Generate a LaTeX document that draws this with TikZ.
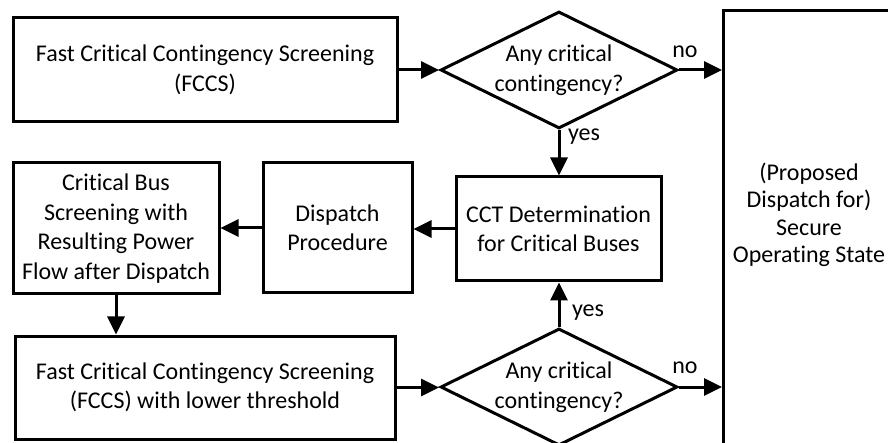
\documentclass[tikz,border=0pt]{standalone}
\usepackage{fontspec}
\setmainfont{Carlito}[Ligatures=NoCommon]
\usetikzlibrary{arrows.meta,shapes.geometric}

\begin{document}
\begin{tikzpicture}[x=1pt,y=-1pt,
  every node/.style={font=\fontsize{24}{29.5}\selectfont},
  box/.style={draw, line width=3pt, rectangle, inner sep=0pt, align=center},
  decision/.style={draw, line width=3pt, diamond, minimum width=237pt, minimum height=117pt, inner sep=0pt},
  dtext/.style={align=center, inner sep=0pt},
  flow/.style={line width=3pt, -{Triangle[length=18pt,width=17pt]}},
  lbl/.style={inner sep=0pt}]

\path[use as bounding box] (0,0) rectangle (888,443);
\clip (0,0) rectangle (888,443);

% process boxes
\node[box, minimum width=384pt, minimum height=104pt] (fccs1) at (205,70)
  {Fast Critical Contingency Screening\\(FCCS)};
\node[box, minimum width=206pt, minimum height=131pt] (critbus) at (116,228.5)
  {Critical Bus\\Screening with\\Resulting Power\\Flow after Dispatch};
\node[box, minimum width=149pt, minimum height=130pt] (dispatch) at (337.5,228)
  {Dispatch\\Procedure};
\node[box, minimum width=205pt, minimum height=104pt] (cct) at (558.5,229)
  {CCT Determination\\for Critical Buses};
\node[box, minimum width=380pt, minimum height=103pt] (fccs2) at (205,387.5)
  {Fast Critical Contingency Screening\\(FCCS) with lower threshold};

% decisions
\node[decision] (dia1) at (559,70) {};
\node[dtext] (dia1t) at (dia1.center) {Any critical\\contingency?};
\node[decision] (dia2) at (559,387) {};
\node[dtext] (dia2t) at (dia2.center) {Any critical\\contingency?};

% final state
\node[box, anchor=north west, minimum width=170pt, minimum height=470pt] (secure) at (722,9) {};
\node[dtext, font=\fontsize{24}{27.5}\selectfont] (securet) at (809,215)
  {(Proposed\\Dispatch for)\\Secure\\Operating State};

% connectors
\draw[flow] (fccs1.east) -- (dia1.west);
\draw[flow] (dia1.east) -- (dia1.east -| secure.west);
\draw[flow] (dia1.south) -- (dia1.south |- cct.north);
\draw[flow] (cct.west) -- (cct.west -| dispatch.east);
\draw[flow] (dispatch.west) -- (dispatch.west -| critbus.east);
\draw[flow] (critbus.south) -- (critbus.south |- fccs2.north);
\draw[flow] (fccs2.east) -- (fccs2.east -| dia2.west);
\draw[flow] (dia2.north) -- (dia2.north |- cct.south);
\draw[flow] (dia2.east) -- (dia2.east -| secure.west);

% branch labels
\node[lbl] (no1) at (685,52) {no};
\node[lbl] (yes1) at (584,137) {yes};
\node[lbl] (yes2) at (588,313) {yes};
\node[lbl] (no2) at (685,368) {no};
\end{tikzpicture}
\end{document}
